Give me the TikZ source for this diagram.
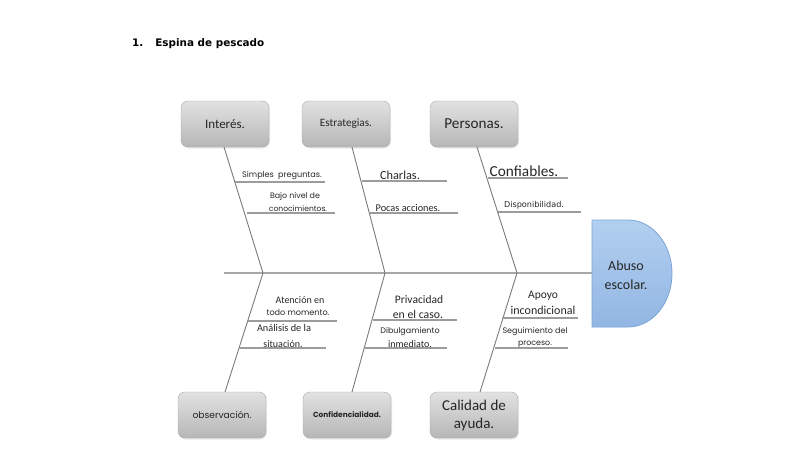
\documentclass[tikz,border=0pt]{standalone}
\usepackage{fontspec}
\setmainfont{Carlito}
\newfontfamily\gothic{Poppins}
\newfontfamily\verd{DejaVu Sans}
\usetikzlibrary{shadows}
\definecolor{boxtop}{HTML}{E2E2E2}
\definecolor{boxbot}{HTML}{B6B6B6}
\definecolor{boxline}{HTML}{A6A6A6}
\definecolor{headtop}{HTML}{B2CFEF}
\definecolor{headbot}{HTML}{92B6E3}
\definecolor{headline}{HTML}{7BA3D6}
\definecolor{bonecol}{HTML}{7A7A7A}
\definecolor{spinecol}{HTML}{A8A8A8}
\definecolor{ribcol}{HTML}{9C9C9C}
\definecolor{txt}{HTML}{262626}
\tikzset{
  catbox/.style={draw=boxline, rounded corners=7pt, top color=boxtop, bottom color=boxbot,
    minimum width=88pt, minimum height=46pt, inner sep=1pt, align=center, text=txt,
    drop shadow={opacity=0.18, shadow xshift=1pt, shadow yshift=-1.5pt}},
  bone/.style={draw=bonecol, line width=0.9pt},
  spinestyle/.style={draw=spinecol, line width=2pt},
  rib/.style={draw=ribcol, line width=1.4pt},
  lbl/.style={inner sep=0pt, align=center, text=txt},
}
\begin{document}
\begin{tikzpicture}[x=1pt,y=-1pt]
\useasboundingbox (0,0) rectangle (799,460);
% title
\node[anchor=west, inner sep=0pt, font=\verd\bfseries\fontsize{10.4}{12}\selectfont] (title) at (132,44) {1.\hspace{12pt}Espina de pescado};
% boxes
\node[catbox, font=\fontsize{13}{15}\selectfont] (interes) at (225,124) {Interés.};
\node[catbox, font=\fontsize{11.2}{13}\selectfont] (estrat) at (346,124) {Estrategias.};
\node[catbox, font=\fontsize{15.2}{17}\selectfont] (personas) at (474,124) {Personas.};
\node[catbox, font=\gothic\fontsize{9.2}{11}\selectfont] (observ) at (222,415) {observación.};
\node[catbox, font=\gothic\bfseries\fontsize{7.4}{9}\selectfont] (confid) at (347,415) {Confidencialidad.};
\node[catbox, font=\fontsize{15}{18}\selectfont] (calidad) at (474,415) {Calidad de\\ayuda.};
% head
\draw[draw=headline, line width=0.8pt, top color=headtop, bottom color=headbot]
  (592,220) -- (628,220) arc[start angle=-90, end angle=90, x radius=44, y radius=53.5] -- (592,327) -- cycle;
\node[lbl, font=\fontsize{14}{19}\selectfont] (abuso) at (626,275) {Abuso\\escolar.};
% spine
\coordinate (sp0) at (224,273);
\coordinate (sp1) at (592,273);
\draw[spinestyle] (sp0) -- (sp1);
% junctions
\coordinate (j1) at (263,273);
\coordinate (j2) at (385,273);
\coordinate (j3) at (517,273);
\coordinate (t1) at (224,147);
\coordinate (t2) at (352,147);
\coordinate (t3) at (477,147);
\coordinate (u1) at (225,392);
\coordinate (u2) at (352,392);
\coordinate (u3) at (480,392);
\draw[bone] (t1) -- (j1) -- (u1);
\draw[bone] (t2) -- (j2) -- (u2);
\draw[bone] (t3) -- (j3) -- (u3);
% ribs top
\coordinate (ra1) at (235,182); \coordinate (rb1) at (325,182);
\coordinate (ra2) at (247,213); \coordinate (rb2) at (335,213);
\coordinate (ra3) at (362,181); \coordinate (rb3) at (447,181);
\coordinate (ra4) at (370,213); \coordinate (rb4) at (458,213);
\coordinate (ra5) at (488,178); \coordinate (rb5) at (568,178);
\coordinate (ra6) at (498,212); \coordinate (rb6) at (581,212);
% ribs bottom
\coordinate (ra7) at (248,321); \coordinate (rb7) at (337,321);
\coordinate (ra8) at (239,348); \coordinate (rb8) at (326,348);
\coordinate (ra9) at (373,320); \coordinate (rb9) at (457,320);
\coordinate (ra10) at (365,348); \coordinate (rb10) at (447,348);
\coordinate (ra11) at (502,318); \coordinate (rb11) at (578,318);
\coordinate (ra12) at (495,348); \coordinate (rb12) at (568,348);
\foreach \i in {1,...,12} { \draw[rib] (ra\i) -- (rb\i); }
% labels top
\node[lbl, font=\gothic\fontsize{8.1}{9}\selectfont] (l1) at (282,176) {Simples\hspace{2pt} preguntas.};
\node[lbl, font=\gothic\fontsize{7.9}{9}\selectfont] (l2a) at (295,197) {Bajo nivel de};
\node[lbl, font=\gothic\fontsize{7.6}{9}\selectfont] (l2b) at (298,209) {conocimientos.};
\node[lbl, font=\fontsize{12.3}{14}\selectfont] (l3) at (400,175) {Charlas.};
\node[lbl, font=\fontsize{10.3}{12}\selectfont] (l4) at (408,208) {Pocas acciones.};
\node[lbl, font=\fontsize{15.3}{17}\selectfont] (l5) at (524,171) {Confiables.};
\node[lbl, font=\verd\fontsize{8.1}{9}\selectfont] (l6) at (534,205) {Disponibilidad.};
% labels bottom
\node[lbl, font=\fontsize{10}{12}\selectfont] (l7a) at (300,300) {Atención en};
\node[lbl, font=\gothic\fontsize{8.1}{9}\selectfont] (l7b) at (298,313) {todo momento.};
\node[lbl, font=\fontsize{10.3}{12}\selectfont] (l8a) at (284,328) {Análisis de la};
\node[lbl, font=\fontsize{10}{12}\selectfont] (l8b) at (283,344) {situación.};
\node[lbl, font=\fontsize{11.5}{14}\selectfont] (l9a) at (419,300) {Privacidad};
\node[lbl, font=\fontsize{11.8}{14}\selectfont] (l9b) at (418,314) {en el caso.};
\node[lbl, font=\gothic\fontsize{8}{9}\selectfont] (l10a) at (410,332) {Dibulgamiento};
\node[lbl, font=\fontsize{10}{12}\selectfont] (l10b) at (410,344) {inmediato.};
\node[lbl, font=\fontsize{11.5}{13}\selectfont] (l11a) at (543,296) {Apoyo};
\node[lbl, font=\fontsize{12}{14}\selectfont] (l11b) at (543,310) {incondicional};
\node[lbl, font=\gothic\fontsize{8}{9}\selectfont] (l12a) at (535,332) {Seguimiento del};
\node[lbl, font=\gothic\fontsize{7.9}{9}\selectfont] (l12b) at (535,344) {proceso.};
\end{tikzpicture}
\end{document}
